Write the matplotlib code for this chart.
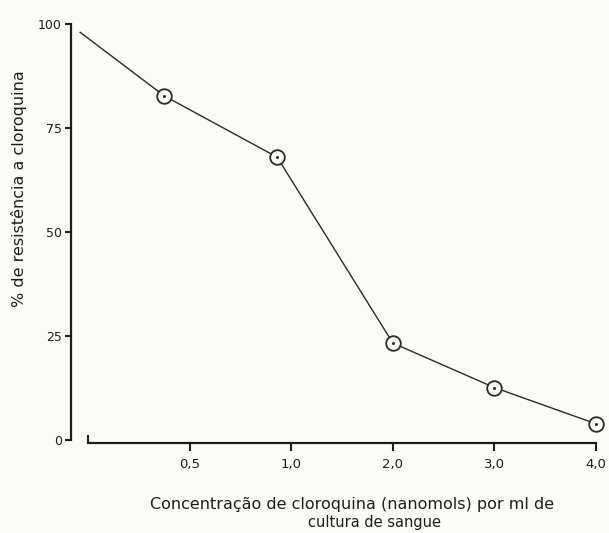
import matplotlib
matplotlib.use("Agg")
import matplotlib.pyplot as plt

# ---- data ----
# x positions on the evenly spaced (categorical) concentration axis
x_line = [-0.08, 0.75, 1.86, 3.0, 4.0, 5.0]
y_line = [98.0, 82.7, 68.0, 23.3, 12.6, 3.9]
marked_x = [0.75, 1.86, 3.0, 4.0, 5.0]
marked_y = [82.7, 68.0, 23.3, 12.6, 3.9]

x_tick_pos = [1, 2, 3, 4, 5]
x_tick_labels = ["0,5", "1,0", "2,0", "3,0", "4,0"]
y_ticks = [0, 25, 50, 75, 100]
y_tick_labels = ["0", "25", "50", "75", "100"]

ylabel = "% de resistência a cloroquina"
xlabel_1 = "Concentração de cloroquina (nanomols) por ml de"
xlabel_2 = "cultura de sangue"

W, H = 609, 533
ink = "#1e1e1e"
font = "DejaVu Sans"

fig = plt.figure(figsize=(W / 100, H / 100), dpi=100)
fig.patch.set_facecolor("#fbfbf7")

left, right, top, bottom = 71, 601, 24, 440
ax = fig.add_axes([left / W, 1 - bottom / H, (right - left) / W, (bottom - top) / H])
ax.set_facecolor("none")
ax.set_xlim(-0.17, 5.05)
ax.set_ylim(0, 100)

for s in ["top", "right"]:
    ax.spines[s].set_visible(False)
ax.spines["left"].set_linewidth(1.6)
ax.spines["left"].set_color(ink)
ax.spines["left"].set_bounds(0, 100)
ax.spines["bottom"].set_linewidth(1.6)
ax.spines["bottom"].set_color(ink)
ax.spines["bottom"].set_bounds(0, 5)
ax.spines["bottom"].set_position(("outward", 2.3))

ax.set_yticks(y_ticks)
ax.set_yticklabels(y_tick_labels, family=font, fontsize=9, color=ink)
ax.set_xticks(x_tick_pos)
ax.set_xticklabels(x_tick_labels, family=font, fontsize=9.5, color=ink)
ax.set_xticks([0, 5], minor=True)
ax.tick_params(axis="y", direction="out", length=4.5, width=1.5, color=ink, pad=2)
ax.tick_params(axis="x", which="major", direction="out", length=6, width=1.5, color=ink, pad=5)
ax.tick_params(axis="x", which="minor", direction="in", length=6, width=1.5, color=ink)

ax.plot(x_line, y_line, color="#2a2a2a", lw=1.0, zorder=2, clip_on=False)
ax.plot(marked_x, marked_y, linestyle="none", marker="o", ms=10.5,
        mfc="#fbfbf7", mec="#2a2a2a", mew=1.3, zorder=3, clip_on=False)
ax.plot(marked_x, marked_y, linestyle="none", marker="o", ms=2.2,
        mfc="#2a2a2a", mec="#2a2a2a", mew=0, zorder=4, clip_on=False)

fig.text(19 / W, 1 - 189 / H, ylabel, rotation=90, ha="center", va="center",
         family=font, fontsize=11.5, color=ink)
fig.text(352 / W, 1 - 505 / H, xlabel_1, ha="center", va="center",
         family=font, fontsize=11.5, color=ink)
fig.text(375 / W, 1 - 522 / H, xlabel_2, ha="center", va="center",
         family=font, fontsize=10.5, color=ink)

fig.savefig("out.png", dpi=100, facecolor=fig.get_facecolor())
